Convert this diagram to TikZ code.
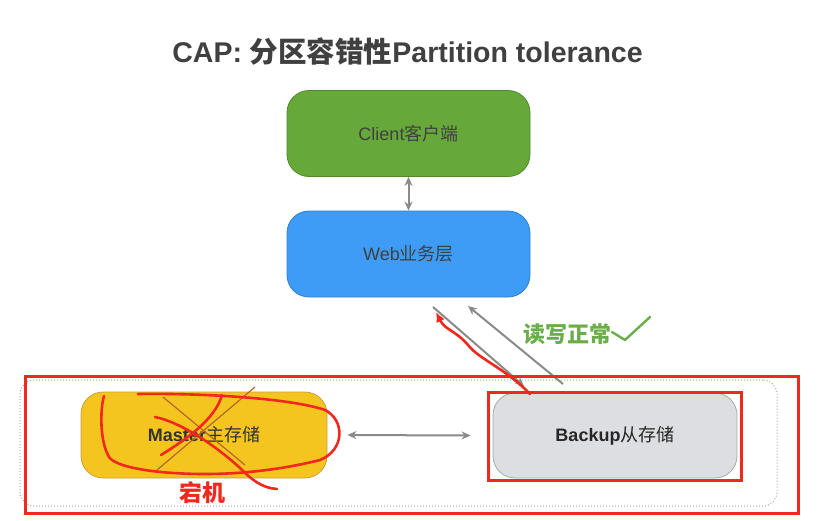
\documentclass[tikz,border=0pt]{standalone}
\usepackage{fontspec}
\setmainfont{Liberation Sans}
\newfontfamily\cjk{Noto Sans CJK SC}
\usetikzlibrary{arrows.meta}
\definecolor{cgreen}{HTML}{67A83B}
\definecolor{cgreenb}{HTML}{4F8A2C}
\definecolor{cblue}{HTML}{3F9CF6}
\definecolor{cblueb}{HTML}{2F7FD0}
\definecolor{cyellow}{HTML}{F5C51F}
\definecolor{cyellowb}{HTML}{C9A040}
\definecolor{cgray}{HTML}{DDDEE1}
\definecolor{cgrayb}{HTML}{A8A9AC}
\definecolor{cline}{HTML}{8A8A8A}
\definecolor{cred}{HTML}{F0281E}
\definecolor{cok}{HTML}{6AAE4A}
\definecolor{cbrown}{HTML}{B8642A}
\tikzset{
  box/.style={rounded corners=22pt, draw, line width=0.8pt, minimum width=243pt, minimum height=86pt, font=\fontsize{18}{20}\selectfont, inner sep=0pt},
  link/.style={draw=cline, line width=2pt, -{Stealth[length=9pt,width=8pt]}},
  dlink/.style={draw=cline, line width=2pt, {Stealth[length=9pt,width=8pt]}-{Stealth[length=9pt,width=8pt]}},
  redbox/.style={draw=cred, line width=3pt},
  scrib/.style={draw=cred, line width=2.6pt, line cap=round, line join=round},
}
\begin{document}
\begin{tikzpicture}[x=1pt,y=-1pt]
\useasboundingbox[fill=white] (0,0) rectangle (818,520);
\node (title) at (407.5,52) {\fontsize{28.5}{32}\selectfont\bfseries\color{black!75}CAP: {\cjk\bfseries 分区容错性}Partition tolerance};
\node[box, fill=cgreen, draw=cgreenb] (client) at (408.5,133.5) {\color{black!75}Client{\cjk 客户端}};
\node[box, fill=cblue, draw=cblueb] (web) at (408.5,254) {\color{black!75}Web{\cjk 业务层}};
\draw[dlink] (client) -- (web);
% dotted group
\node[draw=cgrayb, dotted, line width=1pt, rounded corners=14pt, minimum width=757pt, minimum height=126pt, inner sep=0pt] (group) at (398.5,443) {};
\node[box, fill=cyellow, draw=cyellowb, minimum width=246pt] (master) at (204,435) {\color{black!80}\textbf{Master}{\cjk 主存储}};
\node[box, fill=cgray, draw=cgrayb, minimum width=244pt, minimum height=85pt] (backup) at (615,435.5) {\color{black!85}\textbf{Backup}{\cjk 从存储}};
\draw[dlink] ([xshift=20pt]master.east) -- ([xshift=-22pt]backup.west);
% arrows between web and backup
\coordinate (w1) at (433,307);
\coordinate (b1) at (524,386);
\coordinate (w2) at (468,306);
\coordinate (b2) at (563,384);
\draw[link] (w1) -- (b1);
\draw[link] (b2) -- (w2);
\node[text=cok, font=\cjk\bfseries\fontsize{22}{24}\selectfont, inner sep=0pt] (ok) at (567,334) {读写正常};
\coordinate (c1) at (612,332);
\coordinate (c2) at (625,340);
\coordinate (c3) at (650,317);
\draw[draw=cok, line width=2.4pt, line cap=round, line join=round] (c1) -- (c2) -- (c3);
% red annotations
\draw[redbox] (25,376) rectangle (798,513);
\draw[redbox] (488,392) rectangle (741,480);
\coordinate (rs) at (530,394);
\coordinate (re) at (436,312);
\draw[scrib, -{Latex[length=10pt,width=9pt]}] (rs) .. controls (505,368) and (480,360) .. (468,345) .. controls (455,330) and (445,330) .. (re);
% brown X
\draw[cbrown, line width=1.2pt] (163,397) -- (245,465);
\draw[cbrown, line width=1.2pt] (255,387) -- (157,470);
% red scribbles
\draw[scrib] (155,417) .. controls (180,422) and (215,445) .. (240,468) .. controls (252,480) and (262,488) .. (277,489);
\draw[scrib] (222,395) .. controls (215,420) and (185,440) .. (161,455);
\draw[scrib] (138,394) .. controls (200,393) and (290,398) .. (325,410)
  .. controls (345,420) and (345,450) .. (320,460)
  .. controls (280,470) and (240,474) .. (205,474)
  .. controls (160,474) and (112,468) .. (108,455)
  .. controls (100,440) and (100,410) .. (104,396);
\node[text=cred, font=\cjk\bfseries\fontsize{23}{25}\selectfont] (down) at (202,493) {宕机};
\end{tikzpicture}
\end{document}
